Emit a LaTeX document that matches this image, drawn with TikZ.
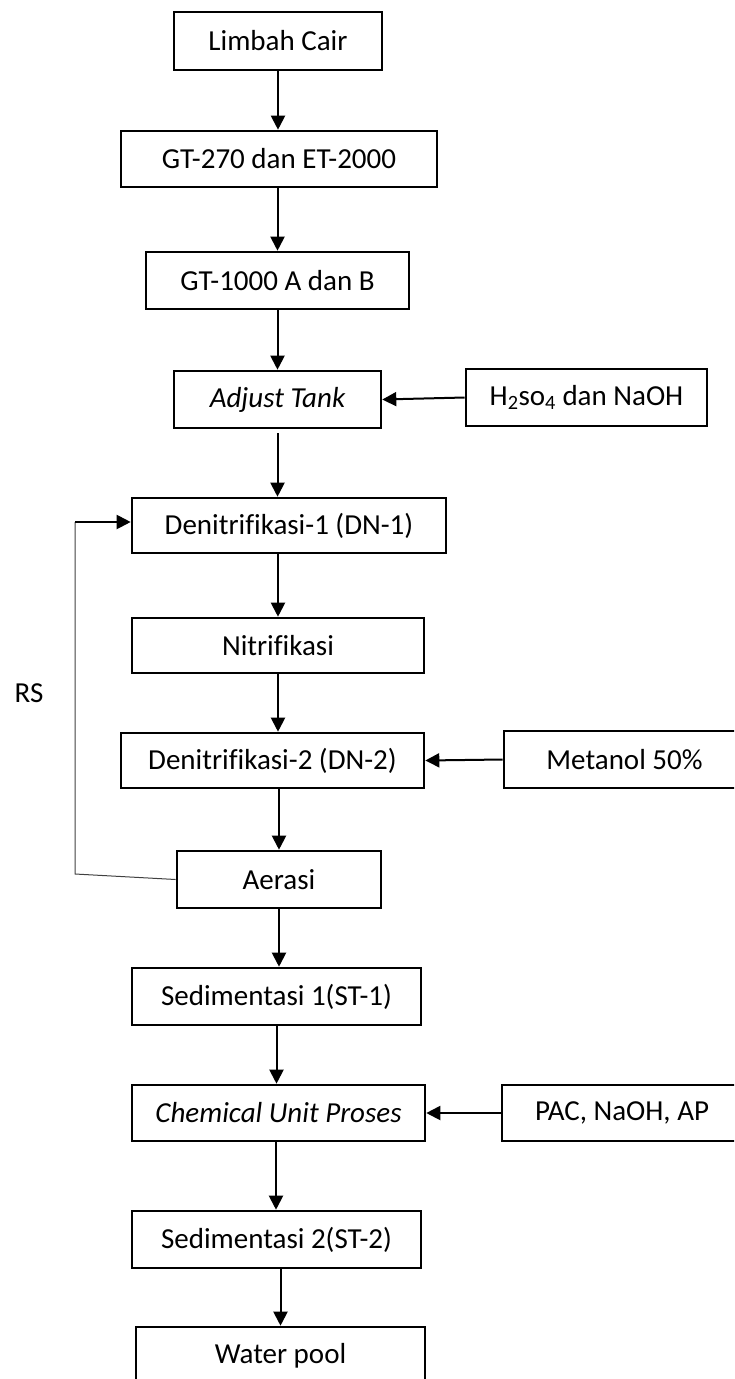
\documentclass[tikz,border=0pt]{standalone}
\usepackage{fontspec}
\setmainfont{Carlito}[Ligatures=NoCommon]
\usetikzlibrary{arrows.meta}
\tikzset{
  box/.style={draw=black, line width=2.6pt, inner sep=0pt, align=center, font=\fontsize{29}{34}\selectfont},
  arr/.style={line width=2pt, -{Triangle[length=14pt,width=14pt]}},
  thinline/.style={line width=1pt, draw=black!75},
}
\begin{document}
\begin{tikzpicture}[x=1pt,y=-1pt]
\useasboundingbox (0,0) rectangle (734,1379);
\clip (0,0) rectangle (734,1379);
\node[box, minimum width=208pt, minimum height=58pt] (lc) at (278,41) {Limbah Cair};
\node[box, minimum width=316pt, minimum height=56pt] (gt270) at (279,159) {GT-270 dan ET-2000};
\node[box, minimum width=263pt, minimum height=57pt] (gt1000) at (277.5,280.5) {GT-1000 A dan B};
\node[box, minimum width=207pt, minimum height=57pt] (adj) at (277.5,399.5) {\itshape Adjust Tank};
\node[box, minimum width=241pt, minimum height=57pt] (h2) at (586.5,397.5) {H\textsubscript{2}so\textsubscript{4} dan NaOH};
\node[box, minimum width=314pt, minimum height=55pt] (dn1) at (289,525.5) {Denitrifikasi-1 (DN-1)};
\node[box, minimum width=292pt, minimum height=55pt] (nit) at (278,645.5) {Nitrifikasi};
\node[box, minimum width=303pt, minimum height=55pt] (dn2) at (272.5,760.5) {Denitrifikasi-2 (DN-2)};
\node[box, minimum width=241pt, minimum height=57pt] (met) at (624.5,759.5) {Metanol 50\%};
\node[box, minimum width=204pt, minimum height=57pt] (aer) at (279,879.5) {Aerasi};
\node[box, minimum width=289pt, minimum height=57pt] (sed1) at (276.5,996.5) {Sedimentasi 1(ST-1)};
\node[box, minimum width=293pt, minimum height=56pt] (chem) at (278.5,1113) {\itshape Chemical Unit Proses};
\node[box, minimum width=240pt, minimum height=56pt] (pac) at (622,1113) {PAC, NaOH, AP};
\node[box, minimum width=289pt, minimum height=57pt] (sed2) at (276.5,1239.5) {Sedimentasi 2(ST-2)};
\node[box, minimum width=289pt, minimum height=57pt] (wp) at (280.5,1355.5) {Water pool};
\node[font=\fontsize{29}{34}\selectfont, inner sep=0pt] (rs) at (29,693) {RS};

\coordinate (rs1) at (75,874);
\coordinate (rs2) at (75,522);

\draw[arr] (lc.south) -- (lc.south |- gt270.north);
\draw[arr] (gt1000.north |- gt270.south) -- (gt1000.north);
\draw[arr] (gt1000.south) -- (adj.north);
\draw[arr] ([yshift=-4pt]adj.south) -- (adj.south |- dn1.north);
\draw[arr] (nit.north |- dn1.south) -- (nit.north);
\draw[arr] (nit.south) -- (nit.south |- dn2.north);
\draw[arr] (aer.north |- dn2.south) -- (aer.north);
\draw[arr] (aer.south) -- (aer.south |- sed1.north);
\draw[arr] (sed1.south) -- (sed1.south |- chem.north);
\draw[arr] ([xshift=-2.5pt]chem.south) -- ([xshift=-2.5pt]chem.south |- sed2.north);
\draw[arr] (wp.north |- sed2.south) -- (wp.north);
\draw[arr] (h2.west) -- (adj.east);
\draw[arr] (met.west) -- (dn2.east);
\draw[arr] (pac.west) -- (chem.east);
\draw[thinline] (aer.west) -- (rs1) -- (rs2);
\draw[arr] (rs2) -- (dn1.west |- rs2);
\end{tikzpicture}
\end{document}
